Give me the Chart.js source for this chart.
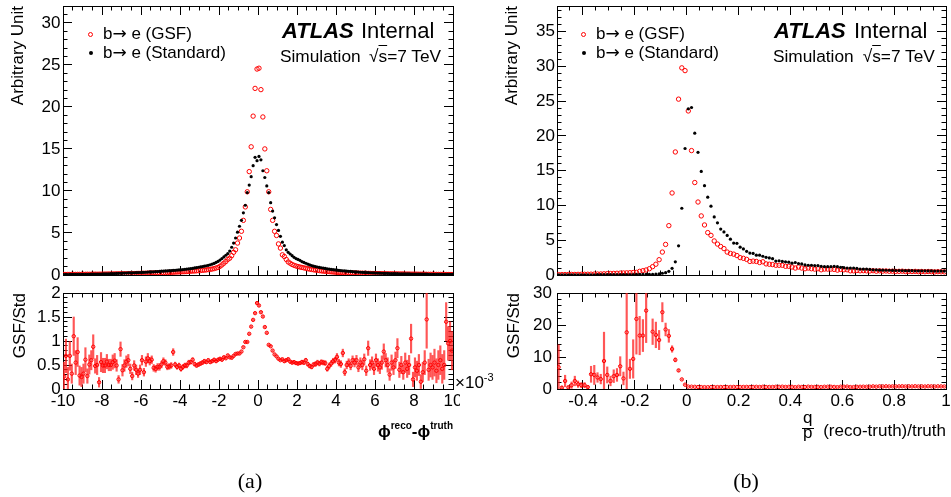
<!DOCTYPE html>
<html><head><meta charset="utf-8">
<script src="https://cdn.jsdelivr.net/npm/chart.js@4.4.1/dist/chart.umd.min.js"></script>
<style>
html,body{margin:0;padding:0;background:#fff;}
body{width:951px;height:497px;position:relative;overflow:hidden;font-family:"Liberation Sans",Arial,Helvetica,sans-serif;color:#000;}
.pane{position:absolute;}
.t{position:absolute;white-space:nowrap;line-height:1;font-size:17px;}
.mk{position:absolute;border-radius:50%;box-sizing:border-box;}
.ar{font-family:"DejaVu Sans",sans-serif;font-size:17px;}
</style></head><body>
<div class="pane" style="left:0;top:0;width:460px;height:285px"><canvas id="cLM"></canvas></div>
<div class="pane" style="left:0;top:280px;width:460px;height:200px"><canvas id="cLR"></canvas></div>
<div class="pane" style="left:490px;top:0;width:461px;height:285px"><canvas id="cRM"></canvas></div>
<div class="pane" style="left:490px;top:280px;width:461px;height:200px"><canvas id="cRR"></canvas></div>

<!-- legends -->
<div class="mk" style="left:88.2px;top:31.8px;width:5px;height:5px;border:1px solid #f00"></div>
<div class="t" style="left:103px;top:24.9px">b<span class="ar">→</span> e (GSF)</div>
<div class="mk" style="left:88.7px;top:51.3px;width:4px;height:4px;background:#000"></div>
<div class="t" style="left:103px;top:44.1px">b<span class="ar">→</span> e (Standard)</div>
<div class="mk" style="left:581.2px;top:31.8px;width:5px;height:5px;border:1px solid #f00"></div>
<div class="t" style="left:596px;top:24.9px">b<span class="ar">→</span> e (GSF)</div>
<div class="mk" style="left:581.7px;top:51.3px;width:4px;height:4px;background:#000"></div>
<div class="t" style="left:596px;top:44.1px">b<span class="ar">→</span> e (Standard)</div>

<!-- ATLAS labels -->
<div class="t" style="left:282px;top:20.4px;font-size:22px;font-weight:bold;font-style:italic">ATLAS</div>
<div class="t" style="left:361px;top:20.4px;font-size:22px">Internal</div>
<div class="t" style="left:280px;top:48.4px;font-size:17.3px">Simulation</div>
<div class="t" style="left:369px;top:48.4px;font-size:17.3px">√<span style="text-decoration:overline">s</span>=7 TeV</div>
<div class="t" style="left:774px;top:20.4px;font-size:22px;font-weight:bold;font-style:italic">ATLAS</div>
<div class="t" style="left:854px;top:20.4px;font-size:22px">Internal</div>
<div class="t" style="left:773px;top:48.4px;font-size:17.3px">Simulation</div>
<div class="t" style="left:862.7px;top:48.4px;font-size:17.3px">√<span style="text-decoration:overline">s</span>=7 TeV</div>

<!-- axis titles -->
<div class="t" style="left:455px;top:373.6px">×10<span style="position:relative;top:-7px;font-size:11px">-3</span></div>
<div class="t" style="right:498px;top:422.6px;font-weight:bold">ϕ<span style="position:relative;top:-8px;font-size:10px">reco</span>-ϕ<span style="position:relative;top:-8px;font-size:10px">truth</span></div>
<div class="t" style="left:803px;top:408.6px">q</div>
<div style="position:absolute;left:802px;top:428px;width:12px;height:1px;background:#000"></div>
<div class="t" style="left:803px;top:423.6px">p</div>
<div class="t" style="right:5px;top:421.6px">(reco-truth)/truth</div>
<div class="t" style="left:250px;top:470px;font-family:'Liberation Serif',serif;font-size:22px;transform:translateX(-50%)">(a)</div>
<div class="t" style="left:746px;top:470px;font-family:'Liberation Serif',serif;font-size:22px;transform:translateX(-50%)">(b)</div>

<script>
const FONT = '"Liberation Sans", Arial, Helvetica, sans-serif';

// ---------- binning ----------
const phiBins = {lo: -10, hi: 10, n: 200};   // x 1e-3
const qpBins  = {lo: -0.5, hi: 1, n: 120};

// ---------- tick labels ----------
const phiMajorTicks   = [-10,-8,-6,-4,-2,0,2,4,6,8,10];
const qpMajorTicks    = [-0.4,-0.2,0,0.2,0.4,0.6,0.8,1];
const mainYTicks      = [0,5,10,15,20,25,30,35];
const leftRatioTicks  = [0,0.5,1,1.5,2];
const rightRatioTicks = [0,10,20,30];

// ---------- (a) phi resolution ----------
const phiGSF = [
0.06,0.06,0.07,0.06,0.07,0.07,0.07,0.08,0.07,0.08,
0.08,0.08,0.09,0.08,0.09,0.09,0.1,0.09,0.1,0.1,
0.1,0.11,0.11,0.12,0.11,0.12,0.13,0.13,0.14,0.14,
0.14,0.15,0.15,0.16,0.16,0.17,0.17,0.18,0.19,0.19,
0.2,0.2,0.21,0.22,0.22,0.23,0.24,0.25,0.26,0.27,
0.28,0.28,0.29,0.3,0.31,0.32,0.33,0.35,0.36,0.37,
0.38,0.39,0.4,0.41,0.43,0.45,0.47,0.48,0.5,0.52,
0.54,0.56,0.58,0.61,0.64,0.67,0.71,0.76,0.83,0.9,
1.03,1.2,1.4,1.6,1.85,2.0,2.3,2.7,3.0,3.8,
4.4,5.2,6.5,8.1,9.9,12.3,15.25,18.9,22.2,24.5,
24.6,22.05,18.8,15.0,12.4,9.9,7.8,6.5,5.2,4.7,
3.7,3.2,2.4,2.2,1.85,1.55,1.4,1.25,1.15,1.07,
1.0,0.95,0.9,0.85,0.8,0.75,0.7,0.66,0.62,0.58,
0.55,0.52,0.49,0.46,0.44,0.42,0.4,0.38,0.36,0.34,
0.32,0.31,0.3,0.29,0.28,0.27,0.26,0.25,0.24,0.24,
0.23,0.22,0.21,0.21,0.2,0.2,0.19,0.19,0.18,0.18,
0.17,0.17,0.16,0.16,0.15,0.15,0.14,0.14,0.14,0.13,
0.13,0.13,0.12,0.12,0.12,0.11,0.11,0.11,0.1,0.1,
0.1,0.1,0.09,0.09,0.09,0.09,0.08,0.08,0.08,0.08,
0.08,0.07,0.07,0.07,0.07,0.07,0.06,0.06,0.06,0.06];

const phiStd = [
0.06,0.07,0.06,0.07,0.07,0.08,0.07,0.08,0.08,0.08,
0.08,0.09,0.09,0.09,0.1,0.1,0.11,0.11,0.12,0.12,
0.13,0.14,0.14,0.15,0.16,0.17,0.18,0.19,0.2,0.21,
0.22,0.23,0.24,0.25,0.26,0.26,0.27,0.28,0.29,0.3,
0.31,0.32,0.33,0.35,0.36,0.37,0.38,0.4,0.41,0.43,
0.45,0.46,0.48,0.49,0.51,0.52,0.54,0.56,0.58,0.6,
0.62,0.64,0.67,0.7,0.73,0.77,0.8,0.84,0.88,0.92,
0.96,1.0,1.05,1.1,1.15,1.22,1.3,1.38,1.5,1.62,
1.78,1.95,2.15,2.35,2.55,2.85,3.3,3.8,4.4,5.1,
5.8,6.5,7.4,8.3,9.8,10.7,11.7,13.0,14.0,13.6,
14.1,13.7,12.4,11.6,10.6,9.8,8.6,7.6,6.8,6.0,
5.3,4.6,3.9,3.5,3.0,2.7,2.5,2.3,2.1,1.95,
1.85,1.75,1.6,1.5,1.4,1.3,1.2,1.12,1.05,1.0,
0.95,0.9,0.86,0.82,0.78,0.74,0.7,0.66,0.63,0.6,
0.57,0.54,0.52,0.5,0.48,0.46,0.44,0.42,0.4,0.38,
0.36,0.35,0.33,0.32,0.31,0.3,0.28,0.27,0.26,0.25,
0.24,0.23,0.22,0.21,0.2,0.2,0.19,0.18,0.17,0.17,
0.16,0.16,0.15,0.15,0.14,0.14,0.13,0.13,0.12,0.12,
0.12,0.11,0.11,0.11,0.1,0.1,0.1,0.09,0.09,0.09,
0.09,0.08,0.08,0.08,0.08,0.08,0.07,0.07,0.07,0.07];

const phiRatio = [
0.26,0.69,0.2,0.69,0.32,1.1,0.55,0.77,0.28,0.25,
0.32,0.61,0.27,0.51,0.6,0.88,0.48,0.5,0.14,0.56,
0.49,0.49,0.57,0.5,0.5,0.56,0.59,0.49,0.2,0.83,
0.39,0.49,0.57,0.6,0.42,0.27,0.49,0.4,0.32,0.4,
0.6,0.35,0.57,0.64,0.58,0.61,0.44,0.42,0.46,0.46,
0.51,0.58,0.55,0.46,0.47,0.49,0.77,0.51,0.46,0.49,
0.42,0.46,0.49,0.49,0.55,0.56,0.61,0.52,0.49,0.51,
0.53,0.55,0.58,0.56,0.6,0.56,0.58,0.61,0.58,0.61,
0.63,0.61,0.66,0.64,0.7,0.66,0.65,0.69,0.73,0.74,
0.74,0.78,0.87,0.98,0.98,1.15,1.3,1.44,1.58,1.79,
1.74,1.6,1.51,1.29,1.17,0.92,0.89,0.8,0.72,0.68,
0.63,0.6,0.62,0.58,0.6,0.62,0.57,0.55,0.56,0.54,
0.53,0.54,0.56,0.55,0.6,0.52,0.48,0.46,0.51,0.52,
0.55,0.53,0.56,0.55,0.54,0.42,0.48,0.53,0.58,0.6,
0.67,0.55,0.52,0.75,0.35,0.5,0.55,0.48,0.6,0.55,
0.6,0.45,0.55,0.5,0.62,0.38,0.85,0.5,0.55,0.42,
0.6,0.5,0.45,0.55,0.78,0.6,0.5,0.3,0.55,0.45,
0.6,0.85,0.4,0.5,0.35,0.55,0.42,0.5,1.05,0.2,
0.45,0.38,0.5,0.15,0.35,0.55,1.45,0.4,0.5,0.45,
0.55,0.38,0.5,0.6,0.42,0.5,1.4,0.95,1.0,0.8];

const phiRatioErr = [
0.3,0.35,0.25,0.3,0.2,0.4,0.25,0.3,0.2,0.2,
0.2,0.25,0.15,0.2,0.2,0.25,0.15,0.2,0.1,0.2,
0.15,0.15,0.15,0.12,0.12,0.15,0.15,0.12,0.08,0.15,
0.12,0.12,0.12,0.12,0.1,0.08,0.1,0.1,0.08,0.1,
0.1,0.08,0.1,0.1,0.08,0.08,0.07,0.07,0.07,0.07,
0.07,0.07,0.06,0.06,0.06,0.06,0.07,0.05,0.05,0.05,
0.05,0.05,0.05,0.05,0.05,0.04,0.04,0.04,0.04,0.04,
0.04,0.04,0.04,0.03,0.03,0.03,0.03,0.03,0.03,0.03,
0.03,0.03,0.03,0.02,0.02,0.02,0.02,0.02,0.02,0.02,
0.02,0.02,0.02,0.02,0.02,0.02,0.02,0.02,0.02,0.02,
0.02,0.02,0.02,0.02,0.02,0.02,0.02,0.02,0.02,0.02,
0.02,0.02,0.02,0.03,0.03,0.03,0.03,0.03,0.03,0.03,
0.03,0.03,0.04,0.04,0.04,0.04,0.04,0.04,0.04,0.05,
0.05,0.05,0.05,0.05,0.05,0.05,0.06,0.06,0.06,0.06,
0.07,0.07,0.07,0.08,0.07,0.08,0.08,0.08,0.09,0.09,
0.1,0.09,0.1,0.1,0.11,0.1,0.15,0.11,0.12,0.12,
0.13,0.13,0.13,0.14,0.16,0.14,0.15,0.12,0.16,0.15,
0.17,0.2,0.16,0.18,0.15,0.2,0.18,0.2,0.3,0.15,
0.2,0.2,0.22,0.15,0.2,0.25,0.6,0.22,0.25,0.25,
0.28,0.25,0.3,0.3,0.3,0.3,0.4,0.35,0.4,0.4];

// ---------- (b) q/p resolution ----------
const qpGSF = [
0.05,0.06,0.06,0.07,0.08,0.08,0.09,0.1,0.1,0.11,
0.12,0.13,0.14,0.15,0.17,0.19,0.21,0.23,0.25,0.27,
0.29,0.31,0.33,0.36,0.38,0.53,0.62,0.72,0.9,1.2,
1.55,2.2,3.3,4.4,7.1,11.8,17.7,25.3,29.8,29.4,
23.6,17.9,13.3,10.5,8.5,7.2,6.1,5.7,4.9,4.45,
4.1,3.8,3.3,3.1,3.0,2.8,2.5,2.4,2.25,1.95,
2.0,1.95,1.8,1.9,1.6,1.55,1.5,1.4,1.4,1.4,
1.25,1.25,1.15,1.0,1.15,1.0,0.9,1.0,0.9,0.85,
0.9,0.75,0.85,0.85,0.85,0.8,0.7,0.8,0.75,0.75,
0.6,0.6,0.65,0.6,0.62,0.6,0.58,0.62,0.55,0.6,
0.56,0.58,0.54,0.55,0.52,0.53,0.55,0.5,0.52,0.5,
0.52,0.48,0.5,0.47,0.5,0.48,0.45,0.48,0.46,0.45];

const qpStd = [
0.02,0.02,0.02,0.02,0.02,0.03,0.02,0.03,0.03,0.03,
0.03,0.03,0.04,0.04,0.04,0.04,0.05,0.05,0.05,0.06,
0.06,0.06,0.07,0.07,0.08,0.08,0.09,0.09,0.1,0.1,
0.12,0.15,0.25,0.33,0.53,0.96,1.9,4.2,9.6,18.2,
23.9,24.1,20.4,17.65,14.9,12.85,11.2,9.9,8.35,7.5,
6.6,6.2,5.7,5.15,4.6,4.55,4.0,3.75,3.4,3.15,
3.1,2.85,2.85,2.7,2.55,2.45,2.35,2.0,2.05,1.95,
1.9,1.85,1.7,1.8,1.65,1.6,1.45,1.4,1.4,1.35,
1.35,1.25,1.2,1.2,1.2,1.25,1.2,1.1,1.05,1.0,
1.0,1.0,0.95,0.85,0.85,0.85,0.8,0.75,0.75,0.7,
0.7,0.68,0.68,0.66,0.65,0.65,0.64,0.62,0.62,0.62,
0.6,0.6,0.6,0.6,0.58,0.58,0.57,0.57,0.57,0.57];

const qpRatio = [
6.8,0.4,2.5,0.5,1.2,2.5,1.5,1.2,1.2,0.6,
4.6,4.4,3.6,3.1,8.75,4.4,2.5,4.0,4.4,7.1,
3.3,17.7,6.3,9.4,21.9,16.7,16.7,24.5,null,17.9,
16.9,15.3,24.0,18.6,16.6,12.5,9.1,5.8,3.0,1.35,
0.75,0.72,0.68,0.62,0.6,0.58,0.56,0.6,0.6,0.6,
0.62,0.62,0.6,0.62,0.65,0.62,0.62,0.64,0.66,0.62,
0.65,0.68,0.63,0.7,0.63,0.63,0.64,0.7,0.68,0.72,
0.66,0.68,0.68,0.56,0.7,0.62,0.62,0.72,0.65,0.63,
0.67,0.6,0.7,0.7,0.7,0.65,0.58,0.72,0.72,0.75,
0.6,0.6,0.68,0.7,0.72,0.7,0.72,0.82,0.73,0.85,
0.8,0.85,0.8,0.83,0.8,0.82,0.86,0.8,0.84,0.8,
0.87,0.8,0.83,0.78,0.86,0.83,0.79,0.84,0.81,0.79];

const qpRatioErr = [
7,0.5,1.8,0.5,1.0,1.5,1.0,0.8,0.8,0.5,
2.5,3.0,1.5,1.5,9,2.5,1.5,2.0,2.0,3.0,
2.0,18,3.0,6,11,6,5,10,0,4,
4,3,3,2,2,1,0.6,0.4,0.2,0.1,
0.05,0.05,0.05,0.05,0.05,0.05,0.05,0.05,0.05,0.05,
0.05,0.05,0.05,0.05,0.05,0.05,0.05,0.05,0.05,0.05,
0.06,0.06,0.06,0.06,0.06,0.06,0.06,0.06,0.06,0.06,
0.07,0.07,0.07,0.07,0.07,0.07,0.07,0.07,0.07,0.07,
0.08,0.08,0.08,0.08,0.08,0.08,0.08,0.08,0.08,0.08,
0.09,0.09,0.09,0.09,0.09,0.09,0.09,0.09,0.09,0.09,
0.1,0.1,0.1,0.1,0.1,0.1,0.1,0.1,0.1,0.1,
0.1,0.1,0.1,0.1,0.1,0.1,0.1,0.1,0.1,0.1];

// ---------- helpers ----------
function binCenters(b){ const w=(b.hi-b.lo)/b.n; const c=[]; for(let i=0;i<b.n;i++) c.push(+(b.lo+(i+0.5)*w).toFixed(6)); return c; }
function stepTicks(min,max,step){ const a=[]; const n=Math.round((max-min)/step); for(let k=0;k<=n;k++){ const v=+(min+k*step).toFixed(6); if(v<=max+1e-9) a.push(v);} return a; }
const phiX = binCenters(phiBins);
const qpX  = binCenters(qpBins);
const pts  = (xs,ys) => xs.map((x,i)=>({x, y: ys[i]})).filter(p=>p.y!==null);
const errs = (xs,ys,es) => xs.map((x,i)=>({x, y: ys[i]===null?null:[ys[i]-es[i], ys[i]+es[i]]})).filter(p=>p.y!==null);

function scalesFor(o){
  const mk = (pos,min,max,ticks,len,size,weight,extra) => {
    const s = {
      type:'linear', position:pos, min, max, offset:false, weight,
      afterBuildTicks: sc => { sc.ticks = ticks.filter(v=>v>=min-1e-9 && v<=max+1e-9).map(v=>({value:v})); },
      afterFit: sc => {
        if(pos==='left'||pos==='right') sc.width=size; else sc.height=size;
        sc.paddingTop=0; sc.paddingBottom=0; sc.paddingLeft=0; sc.paddingRight=0;
      },
      grid:{display:true, drawOnChartArea:false, drawTicks:true, tickLength:-len, tickColor:'#000', tickWidth:1, offset:false},
      border:{display:true, color:'#000', width:1},
      ticks:{display:false, autoSkip:false, maxRotation:0, minRotation:0},
      title:{display:false}
    };
    return Object.assign(s, extra||{});
  };
  const lab = (pad) => ({display:true, autoSkip:false, maxRotation:0, minRotation:0, padding:pad, color:'#000', font:{family:FONT,size:17}, callback:v=>String(v)});
  return {
    x:   mk('bottom',o.xMin,o.xMax,o.xMajor,9,o.xSize,1, o.xLabels?{ticks:lab(o.xPad)}:{}),
    x2:  mk('bottom',o.xMin,o.xMax,o.xMinor,4.5,0,0),
    xt:  mk('top',o.xMin,o.xMax,o.xMajor,9,0,1),
    xt2: mk('top',o.xMin,o.xMax,o.xMinor,4.5,0,0),
    y:   mk('left',o.yMin,o.yMax,o.yMajor,9,o.ySize,1,{
            ticks:lab(o.yPad),
            title:{display:true,text:o.yTitle,align:'end',color:'#000',font:{family:FONT,size:17},padding:{top:o.titlePad,bottom:0}}}),
    y2:  mk('left',o.yMin,o.yMax,o.yMinor,4.5,0,0),
    yr:  mk('right',o.yMin,o.yMax,o.yMajor,9,0,1),
    yr2: mk('right',o.yMin,o.yMax,o.yMinor,4.5,0,0)
  };
}

function makeChart(id, datasets, scales, padding){
  return new Chart(document.getElementById(id), {
    type:'scatter',
    data:{datasets},
    options:{
      responsive:true, maintainAspectRatio:false, animation:false, events:[],
      layout:{padding},
      plugins:{legend:{display:false}, tooltip:{enabled:false}},
      scales
    }
  });
}

const mainSets = (xs, gsf, std) => [
  {label:'b→ e (Standard)', data:pts(xs,std), xAxisID:'x', yAxisID:'y', order:0,
   pointRadius:1.6, pointBackgroundColor:'#000', pointBorderWidth:0, pointBorderColor:'#000'},
  {label:'b→ e (GSF)', data:pts(xs,gsf), xAxisID:'x', yAxisID:'y', order:1,
   pointRadius:2.2, pointBackgroundColor:'rgba(0,0,0,0)', pointBorderWidth:1, pointBorderColor:'#ff0000'}
];
const ratioSets = (xs, r, e) => [
  {label:'GSF/Std', data:pts(xs,r), xAxisID:'x', yAxisID:'y', order:0,
   pointRadius:1.7, pointBackgroundColor:'rgba(0,0,0,0)', pointBorderWidth:1, pointBorderColor:'#ff0000'},
  {type:'bar', label:'err', data:errs(xs,r,e), xAxisID:'x', yAxisID:'y', order:1, clip:0,
   barThickness:1.5, backgroundColor:'rgba(255,30,30,0.75)', borderWidth:0, grouped:false}
];

// (a) main
makeChart('cLM', mainSets(phiX, phiGSF, phiStd), scalesFor({
  xMin:-10,xMax:10,xMajor:phiMajorTicks,xMinor:stepTicks(-10,10,0.5),xLabels:false,xSize:0,
  yMin:0,yMax:32,yMajor:mainYTicks,yMinor:stepTicks(0,32,1),ySize:63,yPad:11.5,
  yTitle:'Arbitrary Unit',titlePad:8.4}), {left:0,top:6,right:7,bottom:10});
// (a) ratio
makeChart('cLR', ratioSets(phiX, phiRatio, phiRatioErr), scalesFor({
  xMin:-10,xMax:10,xMajor:phiMajorTicks,xMinor:stepTicks(-10,10,0.5),xLabels:true,xPad:11,xSize:30,
  yMin:0,yMax:2,yMajor:leftRatioTicks,yMinor:stepTicks(0,2,0.1),ySize:63,yPad:11.3,
  yTitle:'GSF/Std',titlePad:10.6}), {left:0,top:13,right:7,bottom:61});
// (b) main
makeChart('cRM', mainSets(qpX, qpGSF, qpStd), scalesFor({
  xMin:-0.5,xMax:1,xMajor:qpMajorTicks,xMinor:stepTicks(-0.5,1,0.05),xLabels:false,xSize:0,
  yMin:0,yMax:38.7,yMajor:mainYTicks,yMinor:stepTicks(0,38,1),ySize:67,yPad:11,
  yTitle:'Arbitrary Unit',titlePad:11.8}), {left:0,top:6,right:5,bottom:10});
// (b) ratio
makeChart('cRR', ratioSets(qpX, qpRatio, qpRatioErr), scalesFor({
  xMin:-0.5,xMax:1,xMajor:qpMajorTicks,xMinor:stepTicks(-0.5,1,0.05),xLabels:true,xPad:11,xSize:30,
  yMin:0,yMax:30,yMajor:rightRatioTicks,yMinor:stepTicks(0,30,2),ySize:67,yPad:14,
  yTitle:'GSF/Std',titlePad:13.8}), {left:0,top:13,right:5,bottom:61});
</script>
</body></html>
